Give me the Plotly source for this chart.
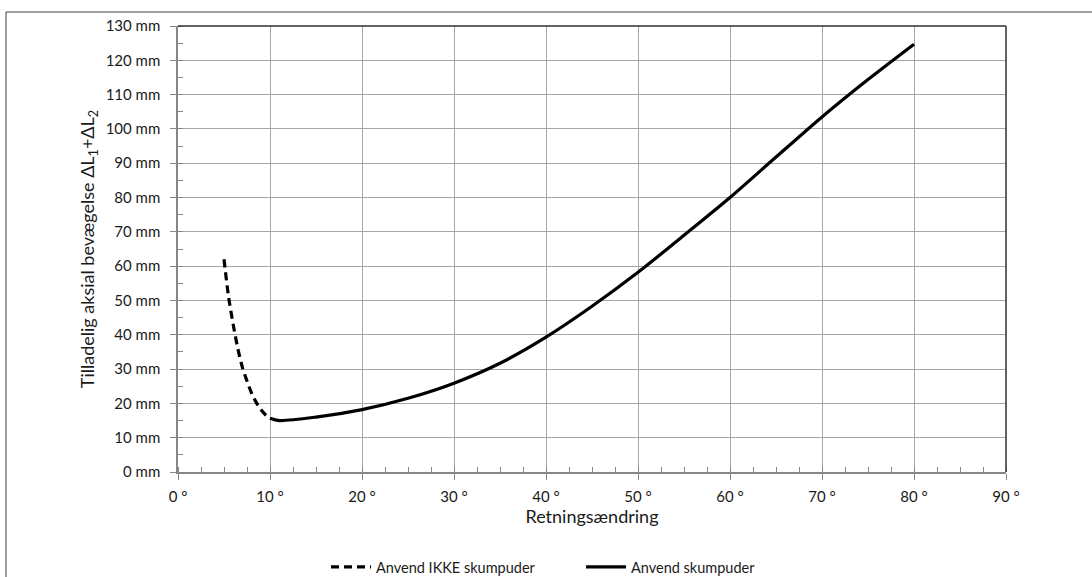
import plotly.graph_objects as go

# Retningsændring (grader) og tilladelig aksial bevægelse (mm)
x_uden = [5, 5.5, 6, 6.5, 7, 7.5, 8, 8.5, 9, 9.5, 10]
y_uden = [62, 51, 43, 36, 30.5, 26.5, 23, 20.3, 18.2, 16.7, 15.7]

x_med = [10, 11, 15, 20, 25, 30, 35, 40, 45, 50, 55, 60, 65, 70, 75, 80]
y_med = [15.7, 15.0, 16.0, 18.2, 21.5, 25.9, 31.7, 39.3, 48.3, 58.2, 69.0, 80.0, 91.8, 103.5, 114.4, 124.7]

x_ticks = [0, 10, 20, 30, 40, 50, 60, 70, 80, 90]
x_ticktext = [f"{v} °" for v in x_ticks]
y_ticks = list(range(0, 131, 10))
y_ticktext = [f"{v} mm" for v in y_ticks]

FONT = "Lato"
GRID = "#a6a6a6"
AXIS = "#868686"

fig = go.Figure()
fig.add_trace(go.Scatter(
    x=x_uden, y=y_uden, mode="lines", name="Anvend IKKE skumpuder",
    line=dict(color="black", width=3.2, dash="8px,5px", shape="spline", smoothing=0.8),
))
fig.add_trace(go.Scatter(
    x=x_med, y=y_med, mode="lines", name="Anvend skumpuder",
    line=dict(color="black", width=3.2, shape="spline", smoothing=0.8),
))

W, H = 1092, 577
L, R, T, B = 178, 86, 26, 105
pw, ph = W - L - R, H - T - B

def px_x(p):
    return (p - L) / pw

def px_y(p):
    return (H - B - p) / ph

shapes = [
    # ramme om plotområdet (top og højre)
    dict(type="line", xref="paper", yref="paper", x0=0, x1=1, y0=1, y1=1,
         line=dict(color="#303030", width=1.5)),
    dict(type="line", xref="paper", yref="paper", x0=1, x1=1, y0=0, y1=1,
         line=dict(color="#303030", width=1.5)),
    # diagramområdets ramme
    dict(type="line", xref="paper", yref="paper", x0=px_x(6), x1=px_x(1200),
         y0=px_y(12), y1=px_y(12), line=dict(color="#404040", width=1)),
    dict(type="line", xref="paper", yref="paper", x0=px_x(6), x1=px_x(6),
         y0=px_y(12), y1=px_y(700), line=dict(color="#404040", width=1)),
]

fig.update_layout(
    width=W, height=H,
    margin=dict(l=L, r=R, t=T, b=B, autoexpand=False),
    paper_bgcolor="white", plot_bgcolor="white",
    font=dict(family=FONT, size=15, color="#1a1a1a"),
    shapes=shapes,
    showlegend=True,
    legend=dict(
        orientation="h", x=px_x(326), xanchor="left", y=px_y(567), yanchor="middle",
        font=dict(family=FONT, size=14.5), itemwidth=40,
        entrywidth=200, entrywidthmode="pixels",
        bgcolor="rgba(0,0,0,0)",
    ),
    xaxis=dict(
        range=[0, 90], tickvals=x_ticks, ticktext=x_ticktext,
        showgrid=True, gridcolor=GRID, gridwidth=1,
        showline=True, linecolor=AXIS, linewidth=1.5,
        ticks="outside", ticklen=6, tickcolor=AXIS,
        minor=dict(dtick=2.5, tick0=0, ticks="inside", ticklen=5, tickcolor=AXIS, showgrid=False),
        zeroline=False, ticklabelstandoff=4,
        title=dict(text="Retningsændring", font=dict(family=FONT, size=18), standoff=2),
        tickfont=dict(family=FONT, size=15),
    ),
    yaxis=dict(
        range=[0, 130], tickvals=y_ticks, ticktext=y_ticktext,
        showgrid=True, gridcolor=GRID, gridwidth=1,
        showline=True, linecolor=AXIS, linewidth=1.5,
        ticks="outside", ticklen=6, tickcolor=AXIS,
        minor=dict(dtick=5, tick0=0, ticks="inside", ticklen=5, tickcolor=AXIS, showgrid=False),
        zeroline=False, ticklabelstandoff=7,
        title=dict(text="Tilladelig aksial bevægelse ΔL<sub>1</sub>+ΔL<sub>2</sub>",
                   font=dict(family=FONT, size=18), standoff=6),
        tickfont=dict(family=FONT, size=15),
    ),
)

fig.write_html("out.html")
